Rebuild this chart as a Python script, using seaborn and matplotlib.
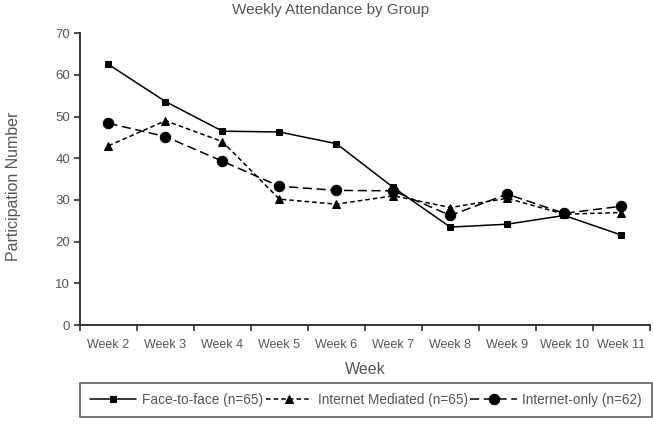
import numpy as np
import pandas as pd
import seaborn as sns
import matplotlib.pyplot as plt
from matplotlib.ticker import FixedLocator

# data
weeks = ["Week 2", "Week 3", "Week 4", "Week 5", "Week 6",
         "Week 7", "Week 8", "Week 9", "Week 10", "Week 11"]
face_to_face = [62.5, 53.6, 46.5, 46.3, 43.5, 33.0, 23.5, 24.2, 26.3, 21.6]
internet_mediated = [43.0, 49.0, 44.0, 30.2, 29.0, 31.0, 28.2, 30.4, 26.6, 27.0]
internet_only = [48.4, 45.2, 39.3, 33.3, 32.3, 32.2, 26.3, 31.4, 26.8, 28.5]
groups = ["Face-to-face (n=65)", "Internet Mediated (n=65)", "Internet-only (n=62)"]

df = pd.DataFrame({
    "Week": weeks * 3,
    "Participation": face_to_face + internet_mediated + internet_only,
    "Group": [groups[0]] * 10 + [groups[1]] * 10 + [groups[2]] * 10,
})

sns.set_style("white")
plt.rcParams['font.family'] = ['Liberation Sans', 'DejaVu Sans']
grey = "#555555"
dark = "#333333"

fig = plt.figure(figsize=(6.53, 4.25), dpi=100)
ax = fig.add_axes([0.1225, 0.235, 0.8725, 0.687])

sns.lineplot(data=df, x="Week", y="Participation", hue="Group", style="Group",
             palette=["black"] * 3,
             markers={groups[0]: "s", groups[1]: "^", groups[2]: "o"},
             dashes={groups[0]: "", groups[1]: (3, 2), groups[2]: (6, 3)},
             markersize=5, linewidth=1.1, markeredgecolor="black", ax=ax,
             legend=True)

# marker sizes closer to the reference
sizes = [4, 5.5, 7.5]
for line, ms in zip(ax.lines[:3], sizes):
    line.set_markersize(ms)

ax.set_xlim(-0.5, 9.5)
ax.set_ylim(0, 70)
ax.set_yticks(np.arange(0, 71, 10))
ax.xaxis.set_major_locator(FixedLocator(np.arange(0, 10)))
ax.xaxis.set_minor_locator(FixedLocator(np.arange(-0.5, 10, 1)))
ax.set_xticklabels(weeks)
ax.tick_params(axis="x", which="major", length=0, labelsize=9, colors=grey, pad=10)
ax.tick_params(axis="x", which="minor", length=4, width=1.2, color=dark, direction="out", bottom=True)
ax.tick_params(axis="y", length=4, width=1.2, color=dark, direction="out", left=True,
               labelsize=9.5, labelcolor=grey, pad=3)

for side in ["top", "right"]:
    ax.spines[side].set_visible(False)
for side in ["left", "bottom"]:
    ax.spines[side].set_color(dark)
    ax.spines[side].set_linewidth(1.4)

fig.text(331 / 653, 1 - 10 / 425, "Weekly Attendance by Group", fontsize=11,
         color=grey, ha="center", va="center")
fig.text(365 / 653, 1 - 370 / 425, "Week", fontsize=11.5, color=grey,
         ha="center", va="center")
fig.text(14 / 653, 1 - 186 / 425, "Participation Number", fontsize=11.5,
         color=grey, ha="center", va="center", rotation=90)
ax.set_xlabel("")
ax.set_ylabel("")

handles, labels = ax.get_legend_handles_labels()
for h, ms in zip(handles, sizes):
    h.set_markersize(ms)
ax.get_legend().remove()
leg = fig.legend(handles, labels, ncol=3, loc="upper left",
                 bbox_to_anchor=(80 / 653, 1 - 383 / 425, 572 / 653, 0.0), mode="expand",
                 frameon=True, fancybox=False, fontsize=9.8, handlelength=3.4,
                 columnspacing=0.5, handletextpad=0.4, borderpad=0.75, borderaxespad=0)
leg.get_frame().set_edgecolor(dark)
leg.get_frame().set_linewidth(1.2)
for t in leg.get_texts():
    t.set_color(grey)

fig.savefig("out.png", dpi=100)
